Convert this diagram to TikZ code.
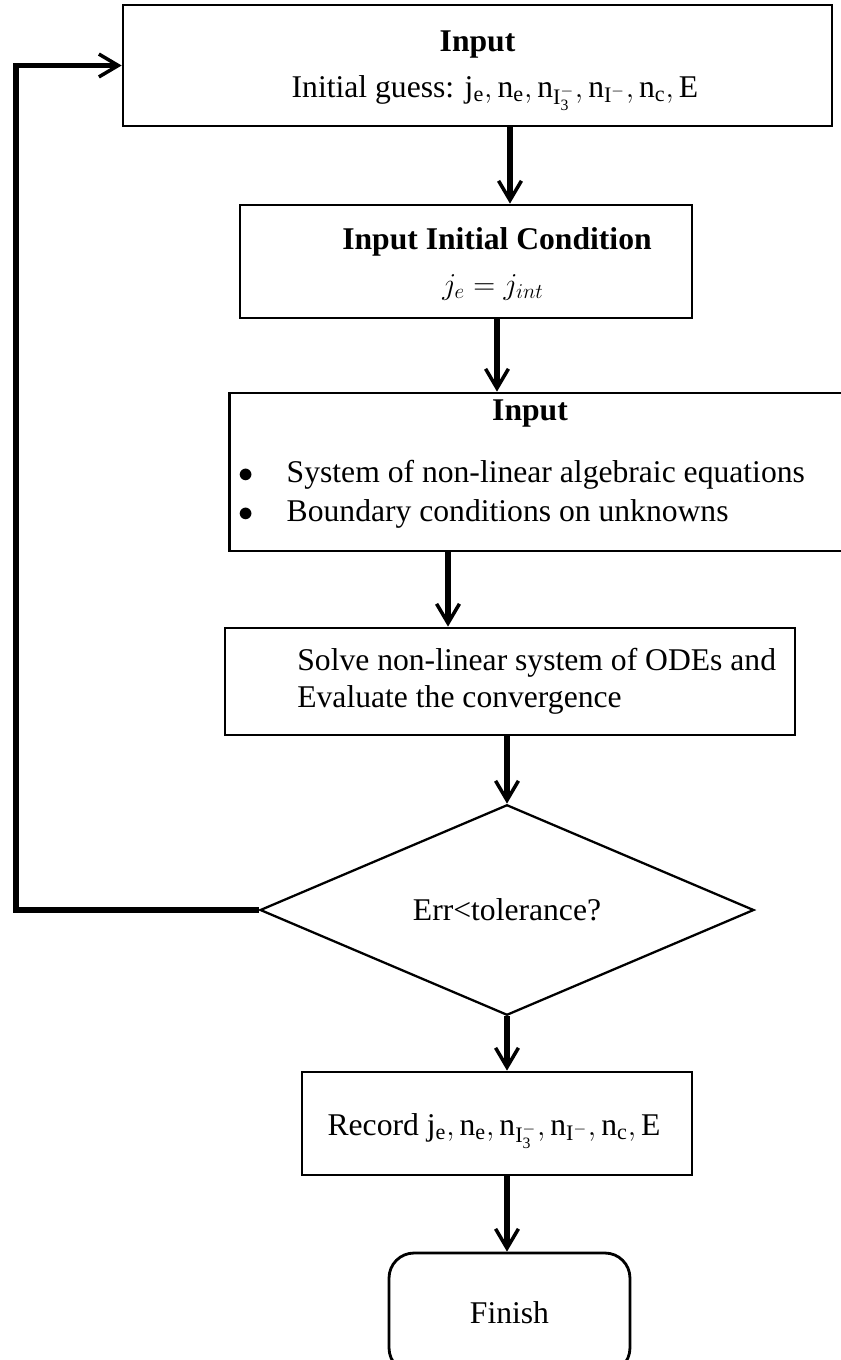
\documentclass[tikz,border=0pt]{standalone}
\usepackage{fontspec}
\setmainfont{Liberation Serif}
\usetikzlibrary{arrows.meta}
\usetikzlibrary{shapes.geometric}
\usetikzlibrary{positioning}

\begin{document}
\begin{tikzpicture}[
    x=0.02cm, y=-0.02cm,
    box/.style={rectangle, draw, line width=1.6pt, inner sep=0pt, font=\fontsize{18}{21}\selectfont, align=center},
    txt/.style={inner sep=0pt, font=\fontsize{18}{21}\selectfont, align=left, anchor=west},
    decision/.style={diamond, draw, line width=1.3pt, inner sep=0pt, font=\fontsize{18}{21}\selectfont},
    finish/.style={rectangle, rounded corners=0.5cm, draw, line width=1.6pt, inner sep=0pt, font=\fontsize{18}{21}\selectfont},
    flow/.style={-{Straight Barb[length=11pt,width=13pt,line width=2pt]}, line width=3pt}
]

% Marco de la figura
\useasboundingbox (0,0) rectangle (841,1360);

% Entrada inicial
\node[box, minimum width=14.18cm, minimum height=2.42cm] (guess) at (477.5,65.5) {};
\node[box, draw=none] (guesstitle) at (477.5,45) {\textbf{Input}};
\node[box, draw=none] (guesstxt) at (495,93)
    {Initial guess: $\mathrm{j_e, n_e, n_{I_3^-}, n_{I^-}, n_c, E}$};

% Condicion inicial
\node[box, minimum width=9.04cm, minimum height=2.26cm] (cond) at (466,261.5) {};
\node[box, draw=none] (condtitle) at (497,242) {\textbf{Input Initial Condition}};
\node[box, draw=none] (condeq) at (493,287) {$j_e = j_{int}$};

% Sistema de ecuaciones
\node[box, minimum width=12.3cm, minimum height=3.16cm] (system) at (537,472) {};
\node[box, draw=none] (systitle) at (530,414) {\textbf{Input}};
\node[txt] (syslist) at (238,494)
    {$\bullet$\hspace{1.05em}System of non-linear algebraic equations\\[1pt]
     $\bullet$\hspace{1.05em}Boundary conditions on unknowns};

% Resolver
\node[box, minimum width=11.4cm, minimum height=2.14cm] (solve) at (510,681.5) {};
\node[txt] (solvetxt) at (297,681)
    {Solve non-linear system of ODEs and\\ Evaluate the convergence};

% Decision
\node[decision, minimum width=9.88cm, minimum height=4.08cm] (err) at (507,910) {Err<tolerance?};

% Registro
\node[box, minimum width=7.8cm, minimum height=2.06cm] (record) at (497,1123.5) {};
\node[box, draw=none] (recordtxt) at (494,1131)
    {Record $\mathrm{j_e, n_e, n_{I_3^-}, n_{I^-}, n_c, E}$};

% Fin
\node[finish, minimum width=4.82cm, minimum height=2.4cm] (done) at (509.5,1313) {Finish};

% Conexiones
\draw[flow] ([xshift=0.65cm]guess.south) -- ([xshift=0.65cm]guess.south |- cond.north);
\draw[flow] ([xshift=0.62cm]cond.south) -- ([xshift=0.62cm]cond.south |- system.north);
\draw[flow] ([xshift=-1.78cm]system.south) -- ([xshift=-1.78cm]system.south |- solve.north);
\draw[flow] (solve.south -| err.north) -- (err.north);
\draw[flow] (err.south) -- (err.south |- record.north);
\draw[flow] (record.south -| err.south) -- (err.south |- done.north);

% Retorno
\draw[flow] (err.west) -- ++(-243,0) |- (guess.west);

\end{tikzpicture}
\end{document}
